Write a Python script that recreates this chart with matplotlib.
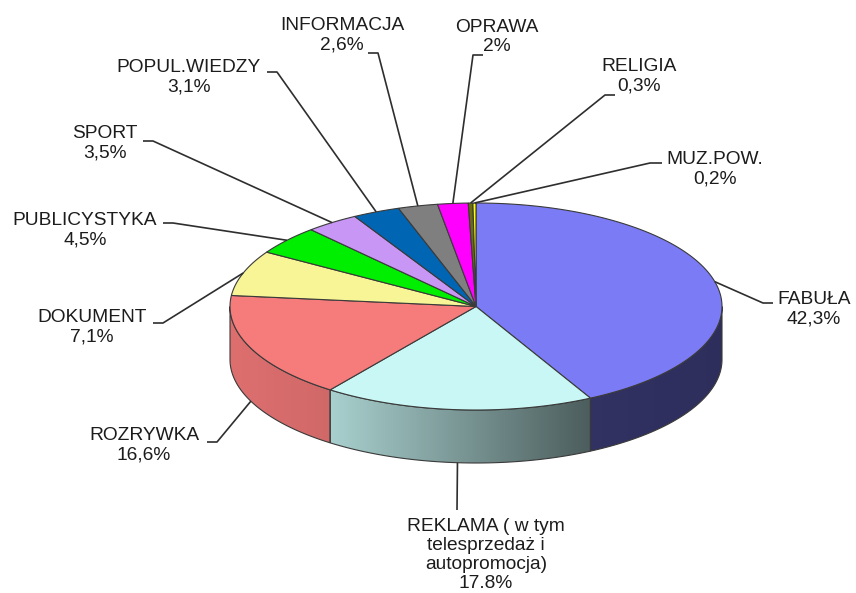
#!/usr/bin/env python3
"""3D-looking pie of TV programme structure, drawn on a pixel-sized canvas."""
import numpy as np
import matplotlib
matplotlib.use("Agg")
import matplotlib.pyplot as plt
from matplotlib.patches import Polygon
from matplotlib.colors import to_rgb

categories = [
    "FABUŁA",
    "REKLAMA ( w tym\ntelesprzedaż i\nautopromocja)",
    "ROZRYWKA",
    "DOKUMENT",
    "PUBLICYSTYKA",
    "SPORT",
    "POPUL.WIEDZY",
    "INFORMACJA",
    "OPRAWA",
    "RELIGIA",
    "MUZ.POW.",
]
values = [42.3, 17.8, 16.6, 7.1, 4.5, 3.5, 3.1, 2.6, 2.0, 0.3, 0.2]
pct_labels = ["42,3%", "17.8%", "16,6%", "7,1%", "4,5%", "3,5%",
              "3,1%", "2,6%", "2%", "0,3%", "0,2%"]

colors = ["#7b7bf6", "#c8f7f5", "#f67b7b", "#f7f596", "#00ee00", "#c896f5",
          "#0066b4", "#7f7f7f", "#ff00ff", "#6b6b10", "#ffff00"]
# shade factor of the side wall at its left / right end
side_shade = {0: (0.40, 0.38), 1: (0.84, 0.38), 2: (0.90, 0.85)}

# geometry in pixels
CX, CY, RX, RY, DEPTH = 476, 306.5, 246, 103.5, 53

# label block centres and leader elbows (elbow, text side)
label_pos = [(814, 309), (486, 555), (144, 445), (92, 327), (85, 230),
             (105, 143), (189, 77), (342, 35), (497, 37), (639, 76), (715, 169)]
elbows = [((763, 303), (773, 303)), ((457, 510), (457, 510)),
          ((217, 442), (207, 442)), ((163, 323), (153, 323)),
          ((173, 223), (163, 223)), ((153, 141), (143, 141)),
          ((277, 72), (267, 72)), ((378, 53), (368, 53)),
          ((473, 55), (483, 55)), ((605, 95), (615, 95)),
          ((650, 163), (662, 163))]

EDGE = "#3a3a3a"
TEXT = "#1c1c1c"


def rim(theta, drop=0.0):
    t = np.radians(theta)
    return CX + RX * np.cos(t), CY - RY * np.sin(t) + drop


def arc(a0, a1, drop=0.0, n=120):
    th = np.linspace(a0, a1, n)
    x, y = rim(th, drop)
    return np.column_stack([x, y])


fig = plt.figure(figsize=(8.56, 5.93), dpi=100)
ax = fig.add_axes([0, 0, 1, 1])
ax.axis("off")

bounds = 90 - 3.6 * np.concatenate([[0], np.cumsum(values)])

# side walls (front half only: -180..0 deg)
for i in range(len(values)):
    a0, a1 = bounds[i], bounds[i + 1]
    hi, lo = min(a0, 0), max(a1, -180)
    if hi <= lo:
        continue
    top = arc(hi, lo)
    bot = arc(lo, hi, DEPTH)
    pts = np.vstack([top, bot])
    poly = Polygon(pts, closed=True, facecolor="none", edgecolor=EDGE,
                   linewidth=0.8, zorder=3)
    ax.add_patch(poly)
    x0, x1 = pts[:, 0].min(), pts[:, 0].max()
    sl, sr = side_shade.get(i, (0.6, 0.6))
    f = np.linspace(sl, sr, 64)
    img = (np.array(to_rgb(colors[i]))[None, None, :] * f[None, :, None])
    im = ax.imshow(img, extent=(x0, x1, pts[:, 1].max(), pts[:, 1].min()),
                   aspect="auto", interpolation="bilinear", zorder=2)
    im.set_clip_path(poly)

# top faces
for i in range(len(values)):
    a0, a1 = bounds[i], bounds[i + 1]
    pts = np.vstack([[CX, CY], arc(a0, a1)])
    ax.add_patch(Polygon(pts, closed=True, facecolor=colors[i], edgecolor=EDGE,
                         linewidth=0.8, zorder=4))

# labels and leader lines
for i, name in enumerate(categories):
    mid = (bounds[i] + bounds[i + 1]) / 2
    drop = DEPTH if np.sin(np.radians(mid)) < 0 else 0
    ax_, ay_ = rim(mid, drop)
    (ex, ey), (tx, ty) = elbows[i]
    ax.plot([ax_, ex, tx], [ay_, ey, ty], color="#2e2e2e", lw=1.2,
            solid_capstyle="butt", zorder=5)
    lx, ly = label_pos[i]
    ax.text(lx, ly, f"{name}\n{pct_labels[i]}", ha="center", va="center",
            multialignment="center", fontsize=13.8, color=TEXT,
            family=["Liberation Sans", "DejaVu Sans"], linespacing=1.17,
            zorder=6)

ax.set_xlim(0, 856)
ax.set_ylim(593, 0)
fig.savefig("out.png", dpi=100)
